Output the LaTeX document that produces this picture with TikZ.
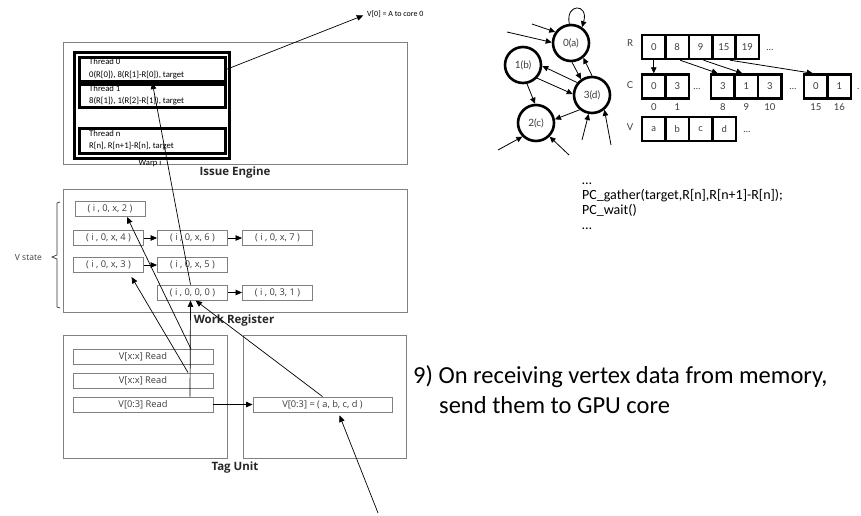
\documentclass[tikz,border=0pt]{standalone}
\usepackage{fontspec}
\setmainfont{Carlito}
\newfontfamily\uifont{Open Sans}
\newfontfamily\graphfont{Lato}
\usetikzlibrary{arrows.meta}
\definecolor{panelgray}{RGB}{128,128,128}
\definecolor{textgray}{RGB}{60,60,60}
\begin{document}
\begin{tikzpicture}[x=1pt,y=-1pt,
  panel/.style={draw=panelgray,line width=0.9pt,inner sep=0pt,anchor=north west},
  heavybox/.style={draw=black,line width=2.6pt,inner sep=0pt,anchor=north west},
  tup/.style={draw=panelgray,line width=0.9pt,inner sep=0pt,minimum width=70pt,minimum height=15pt,
     text=textgray,font=\uifont\fontsize{9.3}{10}\selectfont},
  readbox/.style={tup,minimum width=140pt},
  cell/.style={draw=black,line width=2.4pt,inner sep=0pt,minimum width=23.5pt,minimum height=24pt,
     text=textgray,font=\graphfont\fontsize{9.5}{10}\selectfont},
  vert/.style={circle,draw=black,line width=2.6pt,minimum size=36pt,inner sep=0pt,
     text=textgray,font=\graphfont\fontsize{10}{11}\selectfont},
  arr/.style={-{Triangle[length=6.5pt,width=5.5pt]},line width=0.7pt},
  garr/.style={-{Triangle[length=6pt,width=5.5pt]},line width=0.8pt},
  title/.style={font=\uifont\bfseries\fontsize{11.5}{13}\selectfont,text=black!85,inner sep=0pt},
  thr/.style={font=\fontsize{8.7}{10}\selectfont,anchor=west,inner sep=0pt},
  lbl/.style={text=textgray,font=\graphfont\fontsize{9.5}{10}\selectfont,inner sep=0pt},
  code/.style={font=\fontsize{14}{16}\selectfont,anchor=base west,inner sep=0pt},
  big/.style={font=\fontsize{24.5}{28}\selectfont,anchor=base west,inner sep=0pt},
]
\useasboundingbox (0,0) rectangle (861,515);

% ---------------- Issue Engine ----------------
\node[panel,minimum width=344pt,minimum height=122pt] (issue) at (63,42) {};
\node[heavybox,minimum width=155pt,minimum height=106pt] (warp) at (73,51) {};
\node[heavybox,minimum width=146pt,minimum height=24pt] (th0) at (78,56) {};
\node[heavybox,minimum width=146pt,minimum height=23pt] (th1) at (78,83) {};
\node[heavybox,minimum width=146pt,minimum height=25pt] (thn) at (78,127) {};
\node[thr] (th0a) at (89,62) {Thread 0};
\node[thr] (th0b) at (89,75) {0(R[0]), 8(R[1]-R[0]), target};
\node[thr] (th1a) at (89,89) {Thread 1};
\node[thr] (th1b) at (89,101) {8(R[1]), 1(R[2]-R[1]), target};
\node[thr] (thna) at (89,134) {Thread n};
\node[thr] (thnb) at (89,146) {R[n], R[n+1]-R[n], target};
\node[font=\fontsize{8.5}{9}\selectfont,inner sep=0pt] (warplbl) at (150,163) {Warp i};
\node[title] (issuet) at (235,173) {Issue Engine};
\node[font=\fontsize{8}{9}\selectfont,anchor=west,inner sep=0pt] (vout) at (367,14) {V[0] = A to core 0};

% ---------------- Work Register ----------------
\node[panel,minimum width=344pt,minimum height=123pt] (work) at (63,189) {};
\node[tup] (t2) at (110,209) {( i , 0, x, 2 )};
\node[tup] (t4) at (108.5,238) {( i , 0, x, 4 )};
\node[tup] (t6) at (192.5,238) {( i , 0, x, 6 )};
\node[tup] (t7) at (277.5,238) {( i , 0, x, 7 )};
\node[tup] (t3) at (108.5,265) {( i , 0, x, 3 )};
\node[tup] (t5) at (192.5,265) {( i , 0, x, 5 )};
\node[tup] (t0) at (192.5,292.5) {( i , 0, 0, 0 )};
\node[tup] (t31) at (277.5,292.5) {( i , 0, 3, 1 )};
\node[title] (workt) at (234,321) {Work Register};
\node[text=textgray,font=\uifont\fontsize{8.5}{10}\selectfont,anchor=east,inner sep=0pt] (vstate) at (42,257) {V state};
\draw[line width=0.7pt,black!80] (60,202) -- (57,203) -- (57,255) -- (52,257) -- (57,259) -- (57,307) -- (60,308);

\draw[arr] (t4.east) -- (t6.west);
\draw[arr] (t3.east) -- (t5.west);
\draw[arr] (t6.east) -- (t7.west);
\draw[arr] (t0.east) -- (t31.west);

% ---------------- Tag Unit ----------------
\node[panel,minimum width=164pt,minimum height=123pt] (tagl) at (63,335) {};
\node[panel,minimum width=163pt,minimum height=123pt] (tagr) at (243,335) {};
\node[readbox] (r1) at (143,357) {V[x:x] Read};
\node[readbox] (r2) at (143,380.5) {V[x:x] Read};
\node[readbox] (r3) at (143,404.5) {V[0:3] Read};
\node[readbox,minimum width=139pt] (vres) at (322.5,404.5) {V[0:3] = ( a, b, c, d )};
\node[title] (tagt) at (235,468) {Tag Unit};
\coordinate (mem) at (378,513);

\draw[arr] (r3.east) -- (vres.west);
\draw[arr] ([xshift=48pt]r1.north) -- ([xshift=17pt]t2.south);
\draw[arr] ([xshift=45pt]r2.north) -- ([xshift=23pt,yshift=-4pt]t3.south);
\draw[arr] ([xshift=47pt]r3.north) -- ([xshift=-2pt]t0.south);
\draw[arr] (vres.north) -- ([xshift=3pt]t0.south);
\draw[arr] ([xshift=-2pt]t0.north) -- (th0.south);
\draw[arr,shorten >=4pt] (th0.east) -- (vout.west);
\draw[arr] (mem) -- ([xshift=17pt,yshift=-3pt]vres.south);

% ---------------- Graph ----------------
\node[vert] (a0) at (571,43) {0(a)};
\node[vert] (b1) at (523,65) {1(b)};
\node[vert] (d3) at (592,95) {3(d)};
\node[vert] (c2) at (536,123) {2(c)};
\coordinate (in0a) at (532,24);
\coordinate (in0b) at (507,32);
\coordinate (in2a) at (498,150);
\coordinate (in2b) at (569,155);
\coordinate (in3a) at (582,140);
\coordinate (in3b) at (611,145);

\draw[garr] (a0.95) .. controls (565,3) and (589,3) .. (a0.55);
\draw[garr] (in0a) -- (a0.145);
\draw[garr] (in0b) -- (a0.178);
\draw[garr] (d3.140) -- (b1.-3);
\draw[garr] (b1.-43) -- (d3.177);
\draw[garr] (a0.-87) -- (d3.125);
\draw[garr] (d3.90) -- (a0.-50);
\draw[garr] (b1.-78) -- (c2.93);
\draw[garr] (d3.230) -- (c2.11);
\draw[garr] (in2a) -- (c2.225);
\draw[garr] (in2b) -- (c2.-45);
\draw[garr] (in3a) -- (d3.-100);
\draw[garr] (in3b) -- (d3.-50);

% ---------------- CSR arrays ----------------
\node[lbl] (rlab) at (630,43) {R};
\node[lbl] (clab) at (630,85) {C};
\node[lbl] (vlab) at (630,127) {V};

\node[cell] (r0) at (653.75,47) {0};
\node[cell] (r8) at (677.15,47) {8};
\node[cell] (r9) at (700.55,47) {9};
\node[cell] (r15) at (723.95,47) {15};
\node[cell] (r19) at (747.35,47) {19};
\node[lbl] (rdots) at (770,50) {\ldots};

\node[cell] (c0) at (653.75,86.5) {0};
\node[cell] (c1) at (677.25,86.5) {3};
\node[lbl] (cdots1) at (697,89) {\ldots};
\node[cell] (c8) at (722.75,86.5) {3};
\node[cell] (c9) at (746.25,86.5) {1};
\node[cell] (c10) at (769.75,86.5) {3};
\node[lbl] (cdots2) at (793,89) {\ldots};
\node[cell] (c15) at (815.75,86.5) {0};
\node[cell] (c16) at (839.25,86.5) {1};
\node[lbl,anchor=west] (cdots3) at (857,89) {.};

\node[lbl] (i0) at (653.75,107) {0};
\node[lbl] (i1) at (677.25,107) {1};
\node[lbl] (i8) at (722.75,107) {8};
\node[lbl] (i9) at (746.25,107) {9};
\node[lbl] (i10) at (769.75,107) {10};
\node[lbl] (i15) at (815.75,107) {15};
\node[lbl] (i16) at (839.25,107) {16};

\node[cell] (va) at (653.75,129) {a};
\node[cell] (vb) at (677.25,129) {b};
\node[cell] (vc) at (700.75,129) {c};
\node[cell] (vd) at (724.25,129) {d};
\node[lbl] (vdots) at (747,132) {\ldots};

\draw[garr] (r0.south) -- (c0.north);
\draw[garr] ([xshift=3pt]r8.south) -- ([xshift=-5pt]c8.north);
\draw[garr] ([xshift=3pt]r9.south) -- ([xshift=-4pt]c9.north);
\draw[garr] ([xshift=6pt]r15.south) -- ([xshift=-3pt]c15.north);

% ---------------- Code and caption ----------------
\node[code] (code1) at (582,184) {\ldots};
\node[code] (code2) at (582,199) {PC\_gather(target,R[n],R[n+1]-R[n]);};
\node[code] (code3) at (582,214) {PC\_wait()};
\node[code] (code4) at (582,229) {\ldots};

\node[big] (cap1) at (413,383) {9) On receiving vertex data from memory,};
\node[big] (cap2) at (439,413) {send them to GPU core};
\end{tikzpicture}
\end{document}
